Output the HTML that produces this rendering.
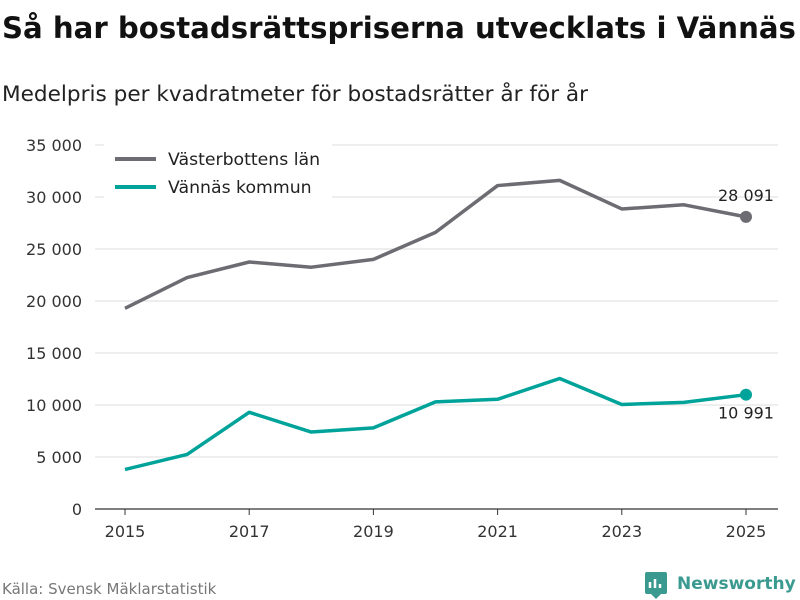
<!DOCTYPE html>
<html><head><meta charset="utf-8"><style>
body{margin:0;background:#fff;font-family:"Liberation Sans","DejaVu Sans",sans-serif;}
#wrap{position:relative;width:800px;height:600px;overflow:hidden;background:#fff}
</style></head><body>
<div id="wrap">
<svg id="svg" width="800" height="600" xmlns="http://www.w3.org/2000/svg">
<text x="2" y="38" font-size="29.2" font-weight="bold" fill="#111" font-family="DejaVu Sans, sans-serif">Så har bostadsrättspriserna utvecklats i Vännäs</text>
<text x="2" y="101" font-size="21.6" fill="#222" font-family="DejaVu Sans, sans-serif">Medelpris per kvadratmeter för bostadsrätter år för år</text>
<g id="grid"></g><g id="series"></g>
<g>
<rect x="104" y="138" width="228" height="62" fill="#fff"/>
<line x1="115" y1="159" x2="156" y2="159" stroke="#6d6c72" stroke-width="4"/>
<text x="168" y="165" font-size="17.3" fill="#222" font-family="DejaVu Sans, sans-serif">Västerbottens län</text>
<line x1="115" y1="187" x2="156" y2="187" stroke="#00a39a" stroke-width="4"/>
<text x="168" y="193" font-size="17.3" fill="#222" font-family="DejaVu Sans, sans-serif">Vännäs kommun</text>
</g>
<text x="2" y="594" font-size="15" fill="#777" font-family="DejaVu Sans, sans-serif">Källa: Svensk Mäklarstatistik</text>
<g>
<rect x="645" y="572" width="22" height="22" rx="2" fill="#3a9a8f"/>
<path d="M650 588v-6M655 588v-9M660 588v-4" stroke="#fff" stroke-width="2.5"/>
<path d="M651 594l5 5 5-5z" fill="#3a9a8f"/>
<text x="677" y="589" font-size="17" font-weight="bold" fill="#3a9a8f" font-family="DejaVu Sans, sans-serif">Newsworthy</text>
</g>
</svg>
</div>
<script>
const years=[2015,2016,2017,2018,2019,2020,2021,2022,2023,2024,2025];
const lanValues=[19300,22250,23750,23250,24000,26600,31100,31600,28850,29250,28091];
const kommunValues=[3800,5250,9300,7400,7800,10300,10550,12550,10050,10250,10991];
const yTicks=[0,5000,10000,15000,20000,25000,30000,35000];
const xTicks=[2015,2017,2019,2021,2023,2025];
const NS="http://www.w3.org/2000/svg";
const x=v=>125+(v-2015)*62.1;
const y=v=>509-v*0.0104;
const fmt=v=>v>=1000?Math.floor(v/1000)+" "+String(v%1000).padStart(3,"0"):String(v);
function mk(t,a,p){const e=document.createElementNS(NS,t);for(const k in a)e.setAttribute(k,a[k]);p.appendChild(e);return e;}
const grid=document.getElementById('grid'),ser=document.getElementById('series');
yTicks.forEach(v=>{
 const l=mk('line',{x1:95,x2:778,y1:y(v),y2:y(v),stroke:v===0?'#333':'#ddd','stroke-width':v===0?1.3:1},grid);
 
 
 const t=mk('text',{x:82,y:y(v)+6,'text-anchor':'end','font-size':16,fill:'#333','font-family':'DejaVu Sans, sans-serif'},grid);
 t.textContent=fmt(v);
 
 
});
xTicks.forEach(v=>{
 const l=mk('line',{x1:x(v),x2:x(v),y1:509,y2:515,stroke:'#333'},grid);
 
 
 const t=mk('text',{x:x(v),y:537,'text-anchor':'middle','font-size':16,fill:'#333','font-family':'DejaVu Sans, sans-serif'},grid);
 t.textContent=v;
 
 
});
function line(vals,color,name,labelDy){
 const p=mk('polyline',{points:vals.map((v,i)=>x(years[i])+','+y(v)).join(' '),fill:'none',stroke:color,'stroke-width':3.5,'stroke-linejoin':'round'},ser);
 
 
 const last=vals[vals.length-1];
 const c=mk('circle',{cx:x(years[years.length-1]),cy:y(last),r:6,fill:color},ser);
 
 
 const t=mk('text',{x:x(years[years.length-1]),y:y(last)+labelDy,'text-anchor':'middle','font-size':16,fill:'#222','font-family':'DejaVu Sans, sans-serif'},ser);
 t.textContent=fmt(last);
 
 
}
line(lanValues,'#6d6c72','vasterbotten',-16);
line(kommunValues,'#00a39a','vannas',24);
</script>
</body></html>
